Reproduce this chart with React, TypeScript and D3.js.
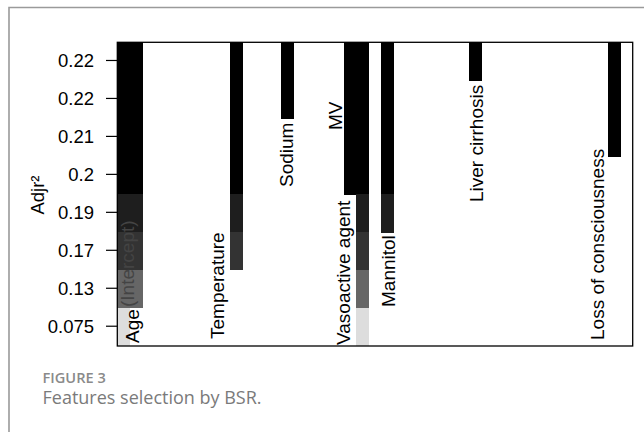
import React from "react";
import * as d3 from "d3";

// Candidate predictors, one column each (unnamed columns were never selected)
const variables: string[] = [
  "(Intercept)", "Age", "", "", "", "", "", "", "", "Temperature",
  "", "", "", "Sodium", "", "", "", "", "MV", "Vasoactive agent",
  "", "Mannitol", "", "", "", "", "", "", "Liver cirrhosis", "",
  "", "", "", "", "", "", "", "", "", "Loss of consciousness", "",
];

// Best subset models, best first, with their adjusted R²
const adjr2: number[] = [0.2226, 0.2218, 0.2147, 0.2046, 0.1905, 0.1702, 0.1301, 0.0751];

const modelVariables: string[][] = [
  ["(Intercept)", "Age", "Temperature", "Sodium", "MV", "Vasoactive agent", "Mannitol", "Liver cirrhosis", "Loss of consciousness"],
  ["(Intercept)", "Age", "Temperature", "Sodium", "MV", "Vasoactive agent", "Mannitol", "Loss of consciousness"],
  ["(Intercept)", "Age", "Temperature", "MV", "Vasoactive agent", "Mannitol", "Loss of consciousness"],
  ["(Intercept)", "Age", "Temperature", "MV", "Vasoactive agent", "Mannitol"],
  ["(Intercept)", "Age", "Temperature", "Vasoactive agent", "Mannitol"],
  ["(Intercept)", "Age", "Temperature", "Vasoactive agent"],
  ["(Intercept)", "Age", "Vasoactive agent"],
  ["(Intercept)", "Vasoactive agent"],
];

// Grey level of each model row
const rowShades = ["#000000", "#000000", "#000000", "#000000", "#1e1e1e", "#333333", "#666666", "#dddddd"];

// Where each variable name sits: shift in columns, and the y where the text starts
const labelPlacement: Record<string, { dx: number; bottom: number; color?: string }> = {
  "(Intercept)": { dx: 0.3, bottom: 307, color: "#444444" },
  "Age": { dx: -0.3, bottom: 343 },
  "Temperature": { dx: -1.53, bottom: 339 },
  "Sodium": { dx: -0.05, bottom: 187 },
  "MV": { dx: -1.18, bottom: 130 },
  "Vasoactive agent": { dx: -1.5, bottom: 345 },
  "Mannitol": { dx: 0.05, bottom: 307 },
  "Liver cirrhosis": { dx: 0.05, bottom: 202 },
  "Loss of consciousness": { dx: -1.34, bottom: 340 },
};

const W = 644;
const H = 432;
const plot = { left: 117.3, right: 632.7, top: 42.3, bottom: 346 };
const axisFont = "'Liberation Sans', Arial, Helvetica, sans-serif";
const captionFont = "'Open Sans', 'Noto Sans', sans-serif";

export default function App() {
  const x = d3
    .scaleBand<number>()
    .domain(d3.range(variables.length))
    .range([plot.left, plot.right]);
  const y = d3
    .scaleBand<number>()
    .domain(d3.range(adjr2.length))
    .range([plot.top, plot.bottom]);
  const bw = x.bandwidth();
  const bh = y.bandwidth();
  const fmt = d3.format(".2~r");

  const labelSize = 19;
  const capHalf = 0.716 * labelSize * 0.5;

  const cells: React.ReactNode[] = [];
  modelVariables.forEach((vars, r) => {
    vars.forEach((v) => {
      const c = variables.indexOf(v);
      cells.push(
        <rect
          key={`${r}-${c}`}
          x={x(c)!}
          y={y(r)!}
          width={bw + 0.4}
          height={bh + 0.4}
          fill={rowShades[r]}
        />
      );
    });
  });

  return (
    <svg
      width={W}
      height={H}
      style={{ position: "absolute", left: 0, top: 0, background: "#fff" }}
    >
      <rect x={0} y={0} width={W} height={H} fill="#fff" />
      {/* card outline */}
      <path d={`M9,${H} V7.5 H${W}`} fill="none" stroke="#9a9a9a" strokeWidth={1.6} />

      <g shapeRendering="crispEdges">{cells}</g>

      {/* variable names */}
      {variables.map((name, i) => {
        const p = labelPlacement[name];
        if (!name || !p) return null;
        const cx = x(i)! + bw / 2 + p.dx * bw;
        return (
          <text
            key={name}
            transform={`translate(${cx + capHalf},${p.bottom}) rotate(-90)`}
            fontFamily={axisFont}
            fontSize={labelSize}
            fill={p.color ?? "#000"}
          >
            {name}
          </text>
        );
      })}

      {/* plot box */}
      <rect
        x={plot.left}
        y={plot.top}
        width={plot.right - plot.left}
        height={plot.bottom - plot.top}
        fill="none"
        stroke="#000"
        strokeWidth={1.3}
      />

      {/* y axis */}
      {adjr2.map((v, i) => {
        const ty = y(i)! + bh / 2 - 0.8;
        return (
          <g key={i}>
            <line x1={106} x2={plot.left} y1={ty} y2={ty} stroke="#000" strokeWidth={1.2} />
            <text
              x={94}
              y={ty}
              dy="0.35em"
              textAnchor="end"
              fontFamily={axisFont}
              fontSize={18.5}
              fill="#000"
            >
              {fmt(v)}
            </text>
          </g>
        );
      })}
      <text
        transform={`translate(44,195) rotate(-90)`}
        textAnchor="middle"
        fontFamily={axisFont}
        fontSize={18.5}
        fill="#000"
      >
        Adjr²
      </text>

      {/* caption */}
      <text x={42.5} y={382.5} fontFamily={captionFont} fontWeight={600} fontSize={14.6} fill="#8a8a8a">
        FIGURE 3
      </text>
      <text x={42.5} y={403.8} fontFamily={captionFont} fontSize={18} fill="#7a7a7a">
        Features selection by BSR.
      </text>
    </svg>
  );
}
